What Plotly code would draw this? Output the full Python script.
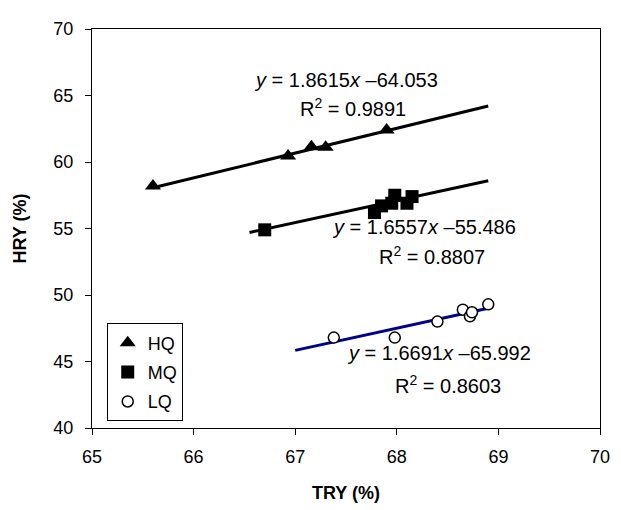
import plotly.graph_objects as go

# ---- data ----
hq_x = [65.6, 66.93, 67.16, 67.30, 67.90]
hq_y = [58.2, 60.45, 61.15, 61.1, 62.4]
mq_x = [66.7, 67.78, 67.85, 67.95, 67.98, 68.10, 68.15]
mq_y = [54.9, 56.2, 56.7, 56.9, 57.5, 56.9, 57.4]
lq_x = [67.38, 67.98, 68.40, 68.65, 68.72, 68.74, 68.90]
lq_y = [46.8, 46.8, 48.0, 48.9, 48.4, 48.7, 49.3]

hq_fit = {"slope": 1.8615, "intercept": -64.053, "r2": 0.9891, "x": [65.6, 68.9]}
mq_fit = {"slope": 1.6557, "intercept": -55.486, "r2": 0.8807, "x": [66.55, 68.9]}
lq_fit = {"slope": 1.6691, "intercept": -65.992, "r2": 0.8603, "x": [67.0, 68.9]}

x_ticks = [65, 66, 67, 68, 69, 70]
y_ticks = [40, 45, 50, 55, 60, 65, 70]

FONT = "Liberation Sans, Arial, sans-serif"

fig = go.Figure()

def fit_y(f):
    return [f["slope"] * x + f["intercept"] for x in f["x"]]

fig.add_trace(go.Scatter(x=hq_fit["x"], y=fit_y(hq_fit), mode="lines",
                         line=dict(color="black", width=3), showlegend=False, hoverinfo="skip"))
fig.add_trace(go.Scatter(x=mq_fit["x"], y=fit_y(mq_fit), mode="lines",
                         line=dict(color="black", width=3), showlegend=False, hoverinfo="skip"))
fig.add_trace(go.Scatter(x=lq_fit["x"], y=fit_y(lq_fit), mode="lines",
                         line=dict(color="#00008B", width=3), showlegend=False, hoverinfo="skip"))

fig.add_trace(go.Scatter(x=hq_x, y=hq_y, mode="markers", name="HQ", legendgroup="a",
                         marker=dict(symbol="triangle-up", size=14, color="black")))
fig.add_trace(go.Scatter(x=mq_x, y=mq_y, mode="markers", name="MQ", legendgroup="b",
                         marker=dict(symbol="square", size=13, color="black")))
fig.add_trace(go.Scatter(x=lq_x, y=lq_y, mode="markers", name="LQ", legendgroup="c",
                         marker=dict(symbol="circle", size=11, color="white",
                                     line=dict(color="black", width=1.5))))

def eq_text(f):
    return f"<i>y</i> = {f['slope']:.4f}<i>x</i> –{abs(f['intercept']):.3f}"

def r2_text(f):
    return f"R<sup>2</sup> = {f['r2']:.4f}"

ann_font = dict(family=FONT, size=20, color="black")
# (fit, eq x-centre, eq y-centre, R2 x-centre, R2 y-centre)
annos = [
    (hq_fit, 67.5, 66.15, 67.57, 64.1),
    (mq_fit, 68.27, 55.15, 68.35, 53.0),
    (lq_fit, 68.42, 45.65, 68.5, 43.3),
]
for f, ex, ey, rx, ry in annos:
    fig.add_annotation(x=ex, y=ey, text=eq_text(f), showarrow=False, font=ann_font,
                       xref="x", yref="y")
    fig.add_annotation(x=rx, y=ry, text=r2_text(f), showarrow=False, font=ann_font,
                       xref="x", yref="y")

axis_common = dict(
    showgrid=False, zeroline=False, showline=True, linecolor="black", linewidth=1,
    mirror=True, ticks="outside", ticklen=6, tickcolor="black", tickwidth=1,
    tickfont=dict(family=FONT, size=18, color="black"),
)

fig.update_xaxes(range=[65, 70], tickvals=x_ticks, ticktext=[str(v) for v in x_ticks],
                 title=dict(text="<b>TRY (%)</b>", font=dict(family=FONT, size=18, color="black"),
                            standoff=20),
                 ticklabelstandoff=6, **axis_common)
fig.update_yaxes(range=[40, 70], tickvals=y_ticks, ticktext=[str(v) for v in y_ticks],
                 title=dict(text="<b>HRY (%)</b>", font=dict(family=FONT, size=18, color="black"),
                            standoff=22),
                 ticklabelstandoff=8, **axis_common)

# page body has an 8px default margin, so the figure is sized to fit the window
fig.update_layout(
    width=613, height=502,
    margin=dict(l=82, r=11, t=13, b=72),
    paper_bgcolor="white", plot_bgcolor="white",
    font=dict(family=FONT, size=18, color="black"),
    showlegend=True,
    legend=dict(x=0.029, y=0.262, xanchor="left", yanchor="top",
                bordercolor="black", borderwidth=1, bgcolor="white",
                font=dict(family=FONT, size=18, color="black"),
                tracegroupgap=3, itemwidth=30),
)

fig.write_html("out.html")
